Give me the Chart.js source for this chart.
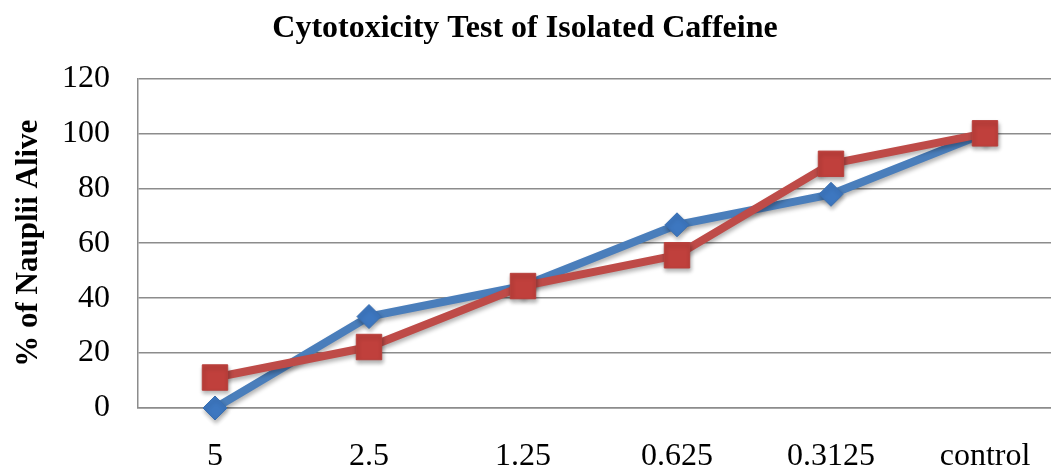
<!DOCTYPE html>
<html>
<head>
<meta charset="utf-8">
<script src="https://cdn.jsdelivr.net/npm/chart.js@4/dist/chart.umd.min.js"></script>
<style>
  html, body { margin: 0; padding: 0; background: #fff; overflow: hidden; }
  #wrap { width: 1051px; height: 469px; position: relative; overflow: hidden; }
  #c { display: block; }
</style>
</head>
<body>
<div id="wrap"><canvas id="c" width="1062" height="469"></canvas></div>
<script>
const categories = ['5', '2.5', '1.25', '0.625', '0.3125', 'control'];
const seriesBlue = [0, 33.3, 44.4, 66.7, 77.8, 100];
const seriesRed = [11.1, 22.2, 44.4, 55.6, 88.9, 100];
const yTicks = [0, 20, 40, 60, 80, 100, 120];

const shadowPlugin = {
  id: 'shadow',
  afterLayout(chart) {
    if (chart.titleBlock) { chart.titleBlock.right = chart.titleBlock.right - 12; }
  },
  beforeDatasetsDraw(chart) {
    const ctx = chart.ctx;
    ctx.save();
    ctx.shadowColor = 'rgba(0,0,0,0.30)';
    ctx.shadowBlur = 4;
    ctx.shadowOffsetX = 1;
    ctx.shadowOffsetY = 3;
  },
  afterDatasetsDraw(chart) {
    chart.ctx.restore();
  }
};

const serif = "'Liberation Serif', 'Times New Roman', serif";

new Chart(document.getElementById('c'), {
  type: 'line',
  data: {
    labels: categories,
    datasets: [
      {
        label: 'Series 2',
        data: seriesRed,
        borderColor: '#be4b48',
        backgroundColor: '#c0403c',
        pointBorderColor: '#b8413d',
        borderWidth: 8,
        pointStyle: 'rect',
        pointRadius: 18,
        pointHoverRadius: 18,
        pointBorderWidth: 1,
        tension: 0,
        clip: false,
        order: 0
      },
      {
        label: 'Series 1',
        data: seriesBlue,
        borderColor: '#4a7ebb',
        backgroundColor: '#3d77c0',
        pointBorderColor: '#3a6fb0',
        borderWidth: 8,
        pointStyle: 'rectRot',
        pointRadius: 12,
        pointHoverRadius: 12,
        pointBorderWidth: 1,
        tension: 0,
        clip: false,
        order: 1
      }
    ]
  },
  options: {
    responsive: false,
    animation: false,
    events: [],
    layout: { autoPadding: false, padding: { left: 0, right: 0, top: 0, bottom: 0 } },
    plugins: {
      legend: { display: false },
      tooltip: { enabled: false },
      title: {
        display: true,
        text: 'Cytotoxicity Test of Isolated Caffeine',
        color: '#000',
        font: { family: serif, size: 32, weight: 'bold' },
        padding: { top: 10, bottom: 30 }
      }
    },
    scales: {
      x: {
        offset: true,
        grid: { display: false, drawTicks: false },
        border: { display: true, color: '#8c8c8c', width: 1.5 },
        ticks: {
          color: '#000',
          font: { family: serif, size: 32 },
          padding: 29,
          maxRotation: 0,
          autoSkip: false
        },
        afterFit(scale) {
          scale.paddingLeft = 0;
          scale.paddingRight = 0;
          scale.height = 61;
        }
      },
      y: {
        min: 0,
        max: 120,
        afterBuildTicks(axis) { axis.ticks = yTicks.map(v => ({ value: v })); },
        grid: { color: '#8c8c8c', lineWidth: 1.5, drawTicks: false },
        border: { display: true, color: '#8c8c8c', width: 1.5 },
        ticks: {
          color: '#000',
          font: { family: serif, size: 32 },
          padding: 28
        },
        title: {
          display: true,
          text: '% of Nauplii Alive',
          color: '#000',
          font: { family: serif, size: 31, weight: 'bold' },
          padding: { top: 10, bottom: 0 }
        },
        afterFit(scale) {
          scale.paddingTop = 0;
          scale.paddingBottom = 0;
          scale.width = 138;
        }
      }
    }
  },
  plugins: [shadowPlugin]
});
</script>
</body>
</html>
